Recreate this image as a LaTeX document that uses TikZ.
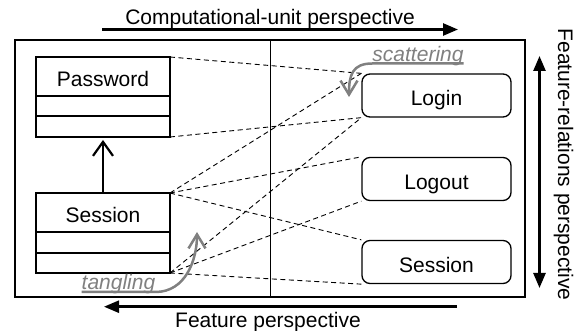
\documentclass[tikz,border=0pt]{standalone}
\usepackage{fontspec}
\setmainfont{Liberation Sans}
\usetikzlibrary{arrows.meta,positioning}

\begin{document}
\begin{tikzpicture}[x=1pt, y=-1pt,
    font=\fontsize{21}{25}\selectfont,
    >={Triangle[length=15pt,width=12pt]},
    classname/.style={draw, line width=1.2pt, minimum width=134pt, minimum height=39pt, inner sep=0pt, outer sep=0pt, text height=21pt, text depth=0pt},
    classslot/.style={draw, line width=1.2pt, minimum width=134pt, minimum height=#1, inner sep=0pt, outer sep=0pt},
    feature/.style={draw, line width=1.3pt, rounded corners=8pt, minimum width=149pt, minimum height=43pt, inner sep=0pt, text height=21pt, text depth=0pt},
    link/.style={line width=0.9pt, dash pattern=on 5pt off 3.5pt},
    view/.style={line width=2.5pt},
    note/.style={text=gray, font=\fontsize{21}{25}\selectfont\itshape, inner sep=0pt, anchor=base},
    hint/.style={draw=gray, line width=2.5pt, -{Straight Barb[length=14pt,width=17pt]}}]
    \useasboundingbox (0,0) rectangle (584,331);

    \draw[line width=1.4pt] (15,40) rectangle (525,297);
    \draw[line width=0.9pt] (270,40) -- (270,297);

    \node[classname] (password) at (103,76.5) {Password};
    \node[classslot=20pt, below=0pt of password] (passwordattr) {};
    \node[classslot=21pt, below=0pt of passwordattr] (passwordops) {};

    \node[classname] (session) at (103,212.5) {Session};
    \node[classslot=21pt, below=0pt of session] (sessionattr) {};
    \node[classslot=20pt, below=0pt of sessionattr] (sessionops) {};

    \draw[line width=2.2pt, -{Straight Barb[length=14pt,width=20pt]}, shorten >=3pt] (session.north) -- (passwordops.south);

    \node[feature] (login) at (436.5,95.5) {Login};
    \node[feature] (logout) at (436.5,179) {Logout};
    \node[feature] (sessionfeat) at (436.5,262) {Session};

    \draw[link] (password.north east) -- (login.north west);
    \draw[link] (passwordops.south east) -- (login.south west);
    \draw[link] (session.north east) -- (login.north west);
    \draw[link] (session.north east) -- (logout.north west);
    \draw[link] (session.north east) -- (sessionfeat.north west);
    \draw[link] (sessionops.south east) -- (login.south west);
    \draw[link] (sessionops.south east) -- (logout.south west);
    \draw[link] (sessionops.south east) -- (sessionfeat.south west);

    \node[anchor=base] (cuview) at (270,25) {Computational-unit perspective};
    \coordinate (cutail) at (102,29.5);
    \coordinate (cuhead) at (458,29.5);
    \draw[view, ->] (cutail) -- (cuhead);

    \node[anchor=base] (fview) at (268,327) {Feature perspective};
    \coordinate (ftail) at (457,306.7);
    \coordinate (fhead) at (104,306.7);
    \draw[view, ->] (ftail) -- (fhead);

    \node[rotate=-90, anchor=base] (frview) at (558,164.5) {Feature-relations perspective};
    \coordinate (frbottom) at (539.5,288);
    \coordinate (frtop) at (539.5,56);
    \draw[view, <->] (frbottom) -- (frtop);

    \node[note] (scattering) at (418,61.5) {scattering};
    \coordinate (scattertip) at (349,97);
    \draw[hint] ([yshift=-2pt]scattering.base east) -- ([yshift=-2pt]scattering.base west) .. controls +(-20,0) and +(0,-22) .. (scattertip);

    \node[note] (tangling) at (118.5,290) {tangling};
    \coordinate (tangletip) at (197,232);
    \draw[hint] ([yshift=-2pt]tangling.base west) -- ([yshift=-2pt]tangling.base east) .. controls +(30,0) and +(0,28) .. (tangletip);
\end{tikzpicture}
\end{document}
